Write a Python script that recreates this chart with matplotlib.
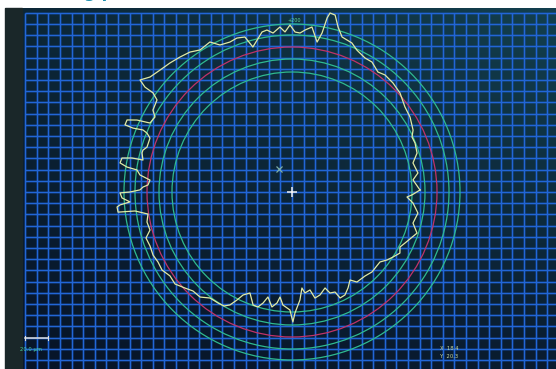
import numpy as np
import matplotlib
matplotlib.use('Agg')
import matplotlib.pyplot as plt
from matplotlib.patches import Circle, Rectangle
from matplotlib.colors import to_rgb

# roundness trace: angle (deg, ccw from 3 o'clock) and radius
trace_angle = [0.9, 5.7, 8.6, 13.5, 17.3, 21.7, 24.6, 27.1, 32.4, 37.0, 42.5, 47.2,
               51.5, 54.4, 58.4, 61.4, 65.4, 68.1, 70.1, 72.1, 74.4, 76.3, 78.0, 78.6,
               79.3, 80.5, 83.1, 85.4, 87.1, 88.9, 90.7, 92.5, 94.2, 96.8, 98.8, 100.6,
               105.1, 106.9, 109.7, 112.5, 116.1, 118.7, 122.9, 126.1, 129.7, 133.4, 137.3,
               141.0, 143.6, 144.5, 144.5, 145.7, 149.5, 151.3, 154.1, 155.1, 156.4, 158.1,
               158.1, 157.4, 157.9, 159.2, 162.8, 164.3, 165.4, 167.9, 168.0, 168.7, 170.4,
               171.4, 171.9, 173.6, 175.2, 177.2, 178.1, 179.2, 180.0, 180.3, 182.0, 183.5,
               184.3, 184.9, 186.6, 186.9, 188.7, 191.7, 195.0, 197.5, 200.8, 204.4, 207.6,
               211.0, 214.5, 218.2, 221.9, 225.0, 228.8, 232.3, 236.3, 239.2, 241.2, 243.0,
               244.6, 247.4, 251.0, 253.5, 255.4, 257.1, 260.1, 262.3, 263.5, 265.4, 269.0,
               270.4, 271.4, 274.2, 275.9, 277.3, 280.4, 282.2, 285.2, 289.0, 290.6, 293.3,
               294.4, 297.2, 300.3, 303.4, 305.8, 311.0, 315.0, 321.5, 324.4, 327.2, 330.5,
               333.0, 335.7, 341.8, 345.6, 350.5, 354.8, 357.5, 358.6, 360.9]
trace_radius = [128, 121.6, 127.4, 124.4, 131, 132.4, 132, 136, 139.8, 141.4, 146.5, 148.6,
                149.5, 147.6, 152.6, 152.6, 156, 160.6, 161.6, 162.9, 171.3, 182.1, 183, 177.5,
                161.8, 152, 166.2, 162.5, 159.2, 160, 167, 160.2, 165.4, 160.1, 163.9, 162.8,
                150.2, 162, 163.5, 162.3, 163.7, 171, 169.2, 173.2, 175.4, 177.6, 179.7,
                182.7, 188.8, 180.6, 170.7, 163.4, 161.4, 156.2, 157.9, 170.9, 180, 180,
                171.4, 161.4, 156.5, 151.9, 151.8, 154.8, 155, 152.4, 163.6, 173.4, 174.4,
                166.9, 156.6, 153, 142.5, 144.2, 149.1, 152, 162, 172, 170.1, 162.3,
                172.5, 175.6, 175.1, 158.1, 145.7, 148.1, 147, 153.1, 151.9, 152.6, 151.2,
                151.6, 148.1, 148.8, 143.8, 140, 139.6, 134, 133.4, 132.7, 128.9, 121.2,
                114, 109.4, 119.5, 119.9, 114.7, 107.7, 116.7, 112, 105.7, 113.4, 118,
                130, 121, 108.3, 96.5, 101.8, 99.6, 108.5, 106.7, 101.5, 107.9, 108.9,
                116.4, 115.8, 111.1, 105.4, 111, 111.3, 113.1, 112.4, 116.8, 120.1, 124,
                121.2, 124, 131.6, 124.9, 127.7, 121.5, 115.1, 120, 128]

ring_radius = [120, 133, 145, 157, 168]
ring_is_ref = [False, False, True, False, False]
fit_center = [-13, 23]
top_label = '+200'
scale_label = '20.0 \u00b5m'
readout = ['X  18.4', 'Y  20.3']

fig = plt.figure(figsize=(5.56, 3.69), dpi=100)
fig.patch.set_facecolor('white')
ax = fig.add_axes([0, 0, 1, 1])
ax.set_xlim(-292, 264)
ax.set_ylim(-177, 192)
ax.axis('off')

# screen background (photo of a CRT), slight gradient
tl, tr = np.array(to_rgb('#0c2636')), np.array(to_rgb('#133f4e'))
bl, br = np.array(to_rgb('#071428')), np.array(to_rgb('#0a1c30'))
u = np.linspace(0, 1, 60)[None, :, None]
v = np.linspace(0, 1, 40)[:, None, None]
img = (1 - v) * ((1 - u) * tl + u * tr) + v * ((1 - u) * bl + u * br)
ax.imshow(img, extent=[-287, 264, -177, 184], origin='upper', aspect='auto', zorder=0)
ax.add_patch(Rectangle((-287, -177), 17, 361, color='#1a2729', zorder=1))

# grid
gx = np.arange(-23, 23) * 11.6
gy = np.arange(-15, 17) * 11.2
ax.vlines(gx, -177, 179.2, color='#1c5fd0', lw=2.2, alpha=0.3, zorder=2)
ax.hlines(gy, -266.8, 264, color='#1c5fd0', lw=2.2, alpha=0.3, zorder=2)
ax.vlines(gx, -177, 179.2, color='#2266d6', lw=0.8, zorder=2)
ax.hlines(gy, -266.8, 264, color='#2266d6', lw=0.8, zorder=2)

# tolerance rings
for r, ref in zip(ring_radius, ring_is_ref):
    ax.add_patch(Circle((0, 0), r, fill=False, lw=0.9,
                        ec='#c0336a' if ref else '#2fba90', zorder=3))

# profile
a = np.radians(trace_angle)
ax.plot(np.array(trace_radius) * np.cos(a), np.array(trace_radius) * np.sin(a),
        color='#e2eaa4', lw=0.9, zorder=4)

ax.plot([0], [0], marker='+', ms=7, mew=1.1, color='#f0f0f0', zorder=5)
ax.plot([fit_center[0]], [fit_center[1]], marker='x', ms=4, mew=0.9, color='#7fb0a8', zorder=5)

ax.text(2, 171, top_label, fontsize=3.5, color='#5fdc9a', ha='center', va='center', zorder=5)

# scale bar and readouts
ax.plot([-267, -244], [-146, -146], color='#e0e0e0', lw=1.1, zorder=5)
ax.plot([-267, -267], [-144, -148], color='#e0e0e0', lw=0.8, zorder=5)
ax.plot([-244, -244], [-144, -148], color='#e0e0e0', lw=0.8, zorder=5)
ax.text(-272, -158, scale_label, fontsize=3.8, color='#45cf9f', va='center', zorder=5)
for i, s in enumerate(readout):
    ax.text(148, -157 - 8 * i, s, fontsize=3.8, color='#c8d8a0', va='center', zorder=5)

# title fragment cut by the top edge, only the descenders show
ax.text(-208, 195, 'g p', fontsize=12, color='#1d8fae', fontweight='bold',
        va='baseline', zorder=5)

fig.savefig('out.png', dpi=100, facecolor='white')
